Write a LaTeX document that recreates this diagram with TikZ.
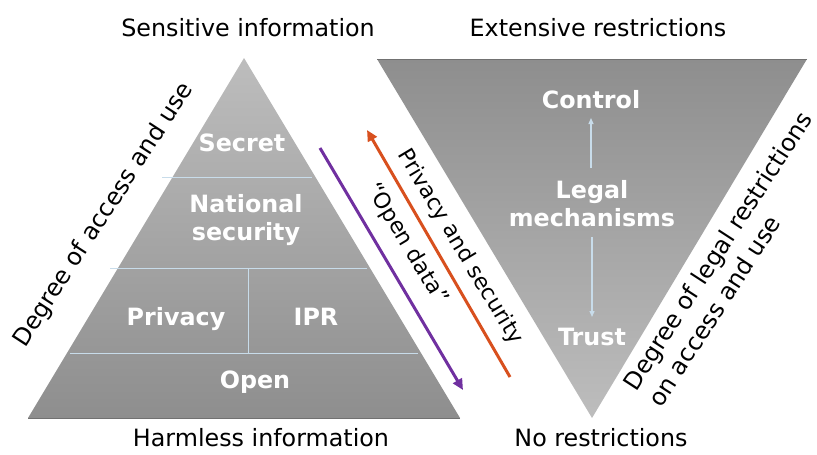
\documentclass[tikz,border=0pt]{standalone}
\usepackage{fontspec}
\setmainfont{DejaVu Sans}
\usetikzlibrary{arrows.meta}
\definecolor{divline}{HTML}{C8DCEA}
\definecolor{arrorange}{HTML}{D8501E}
\definecolor{arrpurple}{HTML}{7030A0}
\definecolor{greylight}{HTML}{BDBDBD}
\definecolor{greydark}{HTML}{8E8E8E}
\begin{document}
\begin{tikzpicture}[x=1pt,y=-1pt,
  inlabel/.style={text=white,font=\bfseries\fontsize{23.8}{27.5}\selectfont,align=center,inner sep=0pt},
  caption/.style={text=black,font=\fontsize{23.8}{28}\selectfont,inner sep=0pt},
  sidelabel/.style={text=black,font=\fontsize{24}{30}\selectfont,inner sep=0pt},
  arrlabel/.style={text=black,font=\fontsize{22}{27}\selectfont,inner sep=0pt},
  divider/.style={draw=divline,line width=1pt},
  smallarrow/.style={draw=divline,line width=1.3pt,-{Triangle[length=6pt,width=5pt]}},
  bigarrow/.style={line width=3pt,-{Triangle[length=11pt,width=10pt]}}]
\useasboundingbox (0,0) rectangle (817,455);
% pyramid
\shade[top color=greylight,bottom color=greydark] (244,58) -- (460,418) -- (28,418) -- cycle;
\draw[greydark!80!black,line width=0.6pt] (28,418) -- (460,418);
% inverted pyramid
\shade[top color=greydark,bottom color=greylight] (377,59) -- (807,59) -- (592,418) -- cycle;
\draw[greydark!80!black,line width=0.6pt] (377,59) -- (807,59);
% dividers
\draw[divider] (162,177) -- (312,177);
\draw[divider] (110,268) -- (367,268);
\draw[divider] (70,353) -- (418,353);
\draw[divider] (248,268) -- (248,353);
% pyramid labels
\node[inlabel,anchor=base] (secret) at (242,151) {Secret};
\node[inlabel,anchor=base] (natsec) at (246,240) {National\\security};
\node[inlabel,anchor=base] (privacy) at (176,325) {Privacy};
\node[inlabel,anchor=base] (ipr) at (316,325) {IPR};
\node[inlabel,anchor=base] (open) at (255,388) {Open};
% inverted pyramid labels
\node[inlabel,anchor=base] (control) at (591,108) {Control};
\node[inlabel,anchor=base] (legal) at (592,226) {Legal\\mechanisms};
\node[inlabel,anchor=base] (trust) at (592,345) {Trust};
\coordinate (lmup) at (591,168);
\coordinate (ctrlbot) at (591,118);
\coordinate (lmdown) at (592,237);
\coordinate (trusttop) at (592,317);
\draw[smallarrow] (lmup) -- (ctrlbot);
\draw[smallarrow] (lmdown) -- (trusttop);
% captions
\node[caption] (sens) at (248,28) {Sensitive information};
\node[caption] (ext) at (598,28) {Extensive restrictions};
\node[caption] (harm) at (261,438) {Harmless information};
\node[caption] (nores) at (601,438) {No restrictions};
% side labels
\node[sidelabel,rotate=57] (degacc) at (104,215) {Degree of access and use};
\node[sidelabel,rotate=57,align=left] (deglegal) at (730,259) {Degree of legal restrictions\\on access and use};
% arrows
\coordinate (orstart) at (510,377);
\coordinate (orend) at (367,130);
\coordinate (pustart) at (320,148);
\coordinate (puend) at (463,390);
\draw[bigarrow,arrorange] (orstart) -- (orend);
\draw[bigarrow,arrpurple] (pustart) -- (puend);
\node[arrlabel,rotate=-59] (privsec) at (460,247) {Privacy and security};
\node[arrlabel,rotate=-59] (opendata) at (407,244) {“Open data”};
\end{tikzpicture}
\end{document}
